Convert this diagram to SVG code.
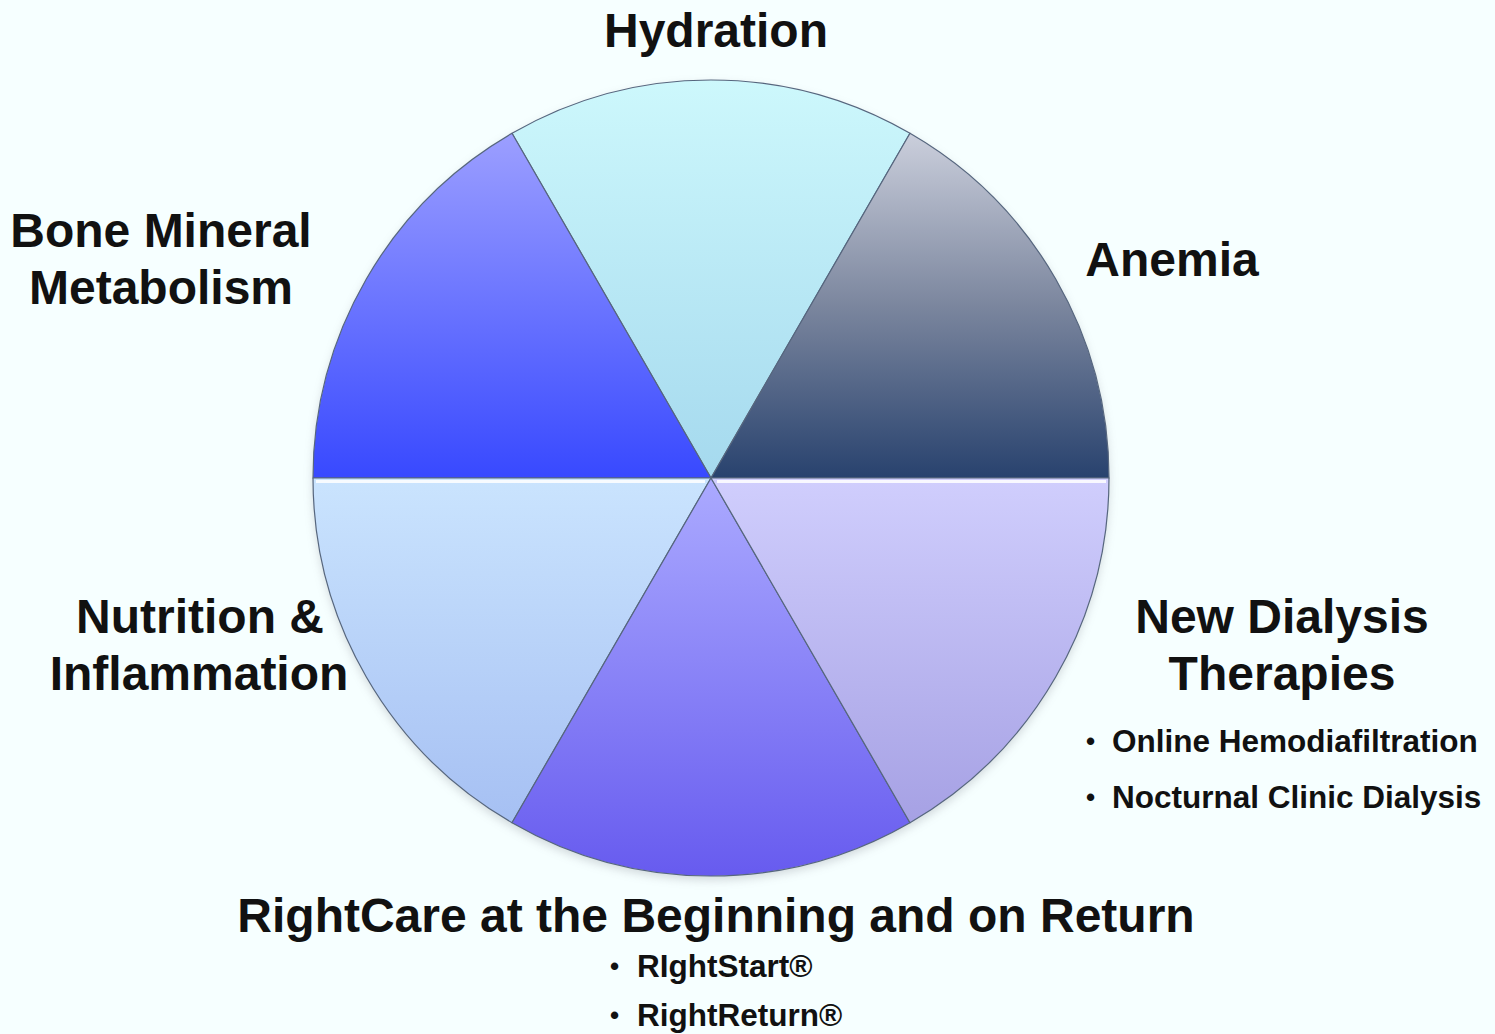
<svg xmlns="http://www.w3.org/2000/svg" width="1495" height="1034" viewBox="0 0 1495 1034">
  <defs>
    <style>
      .lbl { font-family: "Liberation Sans", Arial, sans-serif; font-weight: bold; font-size: 48px; fill: #111111; }
      .sub { font-family: "Liberation Sans", Arial, sans-serif; font-weight: bold; font-size: 31.5px; fill: #111111; }
      .dot { font-family: "Liberation Sans", Arial, sans-serif; font-weight: bold; font-size: 26px; fill: #111111; }
      .slice { stroke: #56667e; stroke-width: 1.2; stroke-linejoin: round; }
      .hl { fill: none; stroke: #ffffff; stroke-width: 3; stroke-opacity: 0.85; }
    </style>
    <linearGradient id="gHyd" x1="0" y1="0" x2="0" y2="1">
      <stop offset="0" stop-color="#CDF8FC"/>
      <stop offset="1" stop-color="#A5D9EE"/>
    </linearGradient>
    <linearGradient id="gAne" x1="0" y1="0" x2="0" y2="1">
      <stop offset="0" stop-color="#CBCFDC"/>
      <stop offset="0.5" stop-color="#7B869E"/>
      <stop offset="1" stop-color="#28426E"/>
    </linearGradient>
    <linearGradient id="gBone" x1="0" y1="0" x2="0" y2="1">
      <stop offset="0" stop-color="#9C9FFF"/>
      <stop offset="1" stop-color="#3849FF"/>
    </linearGradient>
    <linearGradient id="gNut" x1="0" y1="0" x2="0" y2="1">
      <stop offset="0" stop-color="#CAE4FE"/>
      <stop offset="1" stop-color="#A6C0F3"/>
    </linearGradient>
    <linearGradient id="gRC" x1="0" y1="0" x2="0" y2="1">
      <stop offset="0" stop-color="#ABAAFF"/>
      <stop offset="1" stop-color="#675BEF"/>
    </linearGradient>
    <linearGradient id="gND" x1="0" y1="0" x2="0" y2="1">
      <stop offset="0" stop-color="#D0CEFD"/>
      <stop offset="1" stop-color="#A6A1E4"/>
    </linearGradient>
    <filter id="shadow" x="-10%" y="-10%" width="120%" height="120%">
      <feGaussianBlur stdDeviation="5"/>
    </filter>
  </defs>

  <rect x="0" y="0" width="1495" height="1034" fill="#F6FFFF"/>

  <circle cx="711" cy="482" r="398" fill="#8a8f99" opacity="0.35" filter="url(#shadow)"/>

  <g id="hydration">
    <path class="slice" fill="url(#gHyd)" d="M711,478 L512,133.3 A398,398 0 0 1 910,133.3 Z"/>
    <text class="lbl" x="716" y="47" text-anchor="middle">Hydration</text>
  </g>

  <g id="anemia">
    <path class="slice" fill="url(#gAne)" d="M711,478 L910,133.3 A398,398 0 0 1 1109,478 Z"/>
    <text class="lbl" x="1172" y="276" text-anchor="middle">Anemia</text>
  </g>

  <g id="bone-mineral-metabolism">
    <path class="slice" fill="url(#gBone)" d="M711,478 L313,478 A398,398 0 0 1 512,133.3 Z"/>
    <text class="lbl" x="161" y="247" text-anchor="middle">Bone Mineral</text>
    <text class="lbl" x="161" y="304" text-anchor="middle">Metabolism</text>
  </g>

  <g id="nutrition-inflammation">
    <path class="slice" fill="url(#gNut)" d="M711,478 L512,822.7 A398,398 0 0 1 313,478 Z"/>
    <path class="hl" d="M316,481.5 L705,481.5"/>
    <text class="lbl" x="200" y="633" text-anchor="middle">Nutrition &amp;</text>
    <text class="lbl" x="199" y="690" text-anchor="middle">Inflammation</text>
  </g>

  <g id="rightcare">
    <path class="slice" fill="url(#gRC)" d="M711,478 L910,822.7 A398,398 0 0 1 512,822.7 Z"/>
    <text class="lbl" x="716" y="932" text-anchor="middle">RightCare at the Beginning and on Return</text>
    <text class="dot" x="610" y="975">•</text>
    <text class="sub" x="637" y="977">RIghtStart®</text>
    <text class="dot" x="610" y="1024">•</text>
    <text class="sub" x="637" y="1026">RightReturn®</text>
  </g>

  <g id="new-dialysis-therapies">
    <path class="slice" fill="url(#gND)" d="M711,478 L1109,478 A398,398 0 0 1 910,822.7 Z"/>
    <path class="hl" d="M717,481.5 L1106,481.5"/>
    <text class="lbl" x="1282" y="633" text-anchor="middle">New Dialysis</text>
    <text class="lbl" x="1282" y="690" text-anchor="middle">Therapies</text>
    <text class="dot" x="1086" y="750">•</text>
    <text class="sub" x="1112" y="752">Online Hemodiafiltration</text>
    <text class="dot" x="1086" y="806">•</text>
    <text class="sub" x="1112" y="808">Nocturnal Clinic Dialysis</text>
  </g>

  <g id="connectors"></g>
</svg>
